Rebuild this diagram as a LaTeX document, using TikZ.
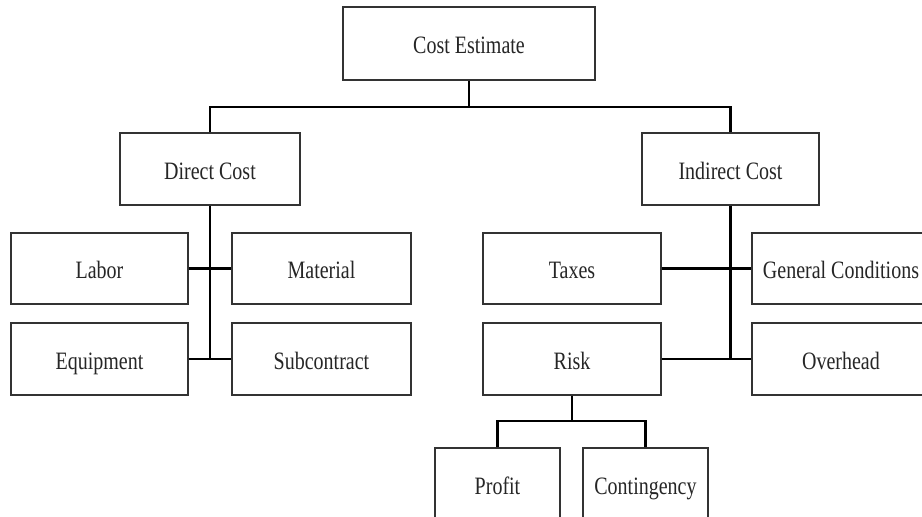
\documentclass[tikz,border=0pt]{standalone}
\usepackage{fontspec}
\setmainfont{Liberation Serif}[FakeStretch=0.8]
\begin{document}
\begin{tikzpicture}[x=1pt,y=-1pt,
  box/.style={draw=black!80, line width=1.3pt, inner sep=0pt, minimum height=72pt,
    text height=23pt, text depth=3pt,
    font=\fontsize{25}{30}\selectfont, text=black!85},
  conn/.style={draw=black, line width=2.2pt}]
\useasboundingbox (0,0) rectangle (922,517);
\fill[white] (0,0) rectangle (922,517);
\clip (0,0) rectangle (922,517);
\node[box, minimum width=252pt, minimum height=73pt] (ce) at (469,43.5) {Cost Estimate};
\node[box, minimum width=180pt] (dc) at (210,169) {Direct Cost};
\node[box, minimum width=177pt] (ic) at (730.5,169) {Indirect Cost};
\node[box, minimum width=177pt, minimum height=71pt] (labor) at (99.5,268.5) {Labor};
\node[box, minimum width=179pt, minimum height=71pt] (material) at (321.5,268.5) {Material};
\node[box, minimum width=177pt] (equip) at (99.5,359) {Equipment};
\node[box, minimum width=179pt] (subc) at (321.5,359) {Subcontract};
\node[box, minimum width=178pt, minimum height=71pt] (taxes) at (572,268.5) {Taxes};
\node[box, minimum width=178pt, minimum height=71pt] (gc) at (841,268.5) {General Conditions};
\node[box, minimum width=178pt] (risk) at (572,359) {Risk};
\node[box, minimum width=178pt] (overhead) at (841,359) {Overhead};
\node[box, minimum width=125pt] (profit) at (497.5,484) {Profit};
\node[box, minimum width=125pt] (cont) at (645.5,484) {Contingency};
\coordinate (b1) at (469,107);
\coordinate (b2) at (572,421);
\draw[conn] (ce.south) -- (b1);
\draw[conn] (dc.north) |- (b1) -| (ic.north);
\draw[conn] (dc.south) -- (dc.south |- equip.east);
\draw[conn] (labor.east) -- (material.west);
\draw[conn] (equip.east) -- (subc.west);
\draw[conn] (ic.south) -- (ic.south |- risk.east);
\draw[conn] (taxes.east) -- (gc.west);
\draw[conn] (risk.east) -- (overhead.west);
\draw[conn] (risk.south) -- (b2);
\draw[conn] (profit.north) |- (b2) -| (cont.north);
\end{tikzpicture}
\end{document}
